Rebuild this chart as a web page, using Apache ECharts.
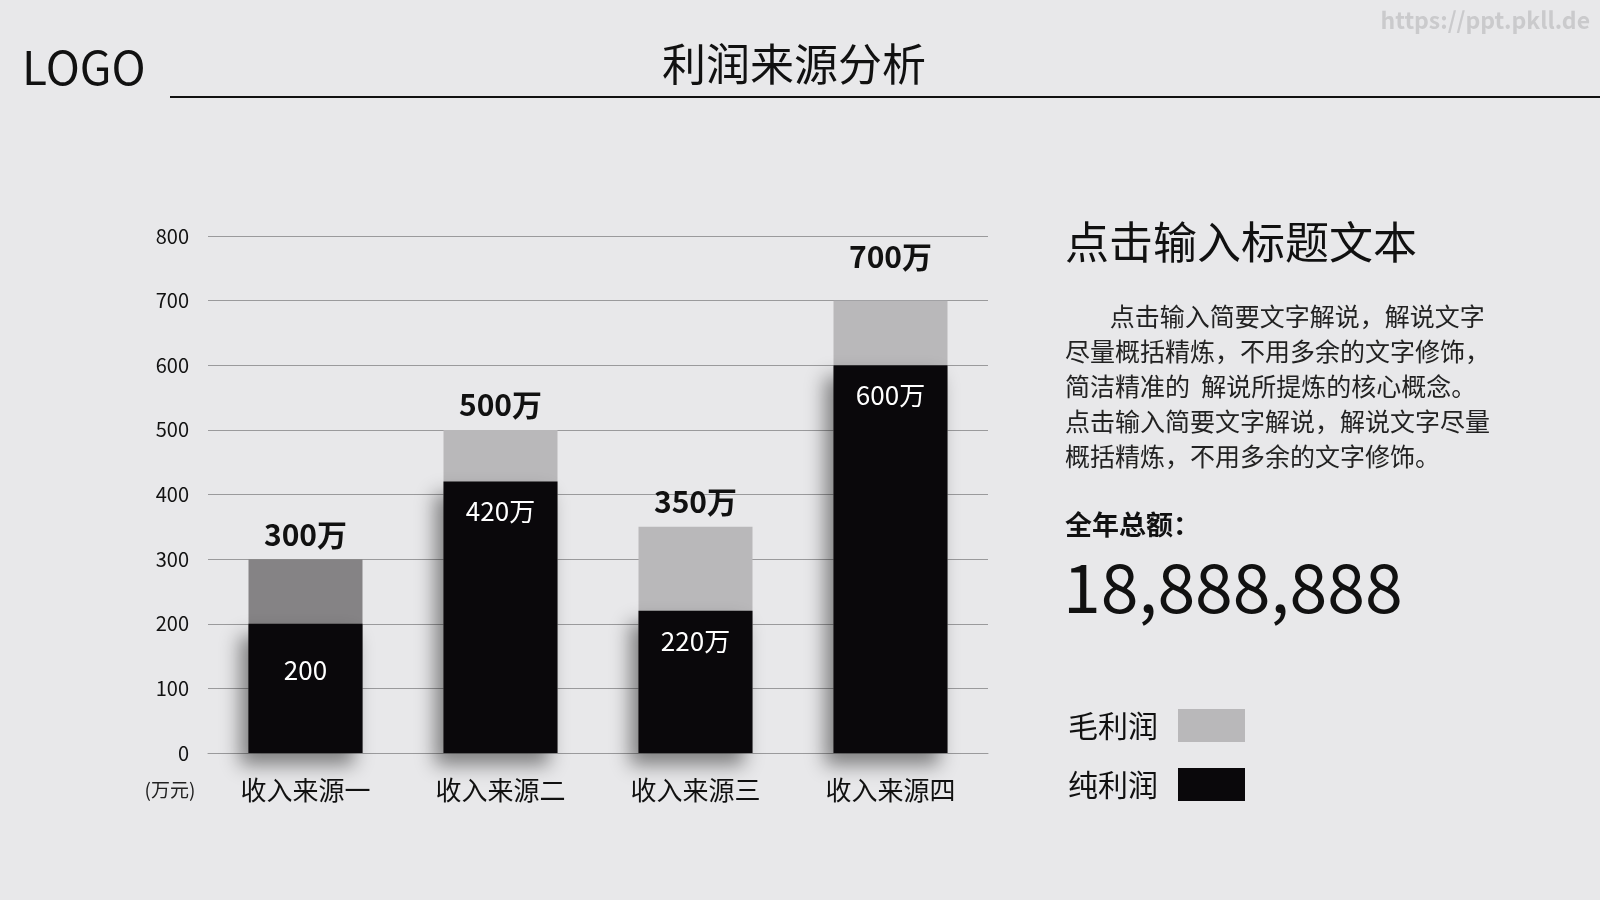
<!DOCTYPE html>
<html>
<head>
<meta charset="utf-8">
<script src="https://cdn.jsdelivr.net/npm/echarts@6/dist/echarts.min.js"></script>
<style>
html,body{margin:0;padding:0;background:#e8e8ea;}
#c{width:1600px;height:900px;}
</style>
</head>
<body>
<div id="c"></div>
<script>
const categories = ['收入来源一', '收入来源二', '收入来源三', '收入来源四'];
const grossProfit = [300, 500, 350, 700];
const netProfit = [200, 420, 220, 600];
const netLabels = ['200', '420万', '220万', '600万'];
const yTicks = { min: 0, max: 800, interval: 100 };
const FONT = '"Noto Sans CJK SC", "Noto Sans", sans-serif';

const chart = echarts.init(document.getElementById('c'), null, { renderer: 'canvas' });

const grossData = grossProfit.map((v, i) => {
  const d = { value: v };
  if (i === 0) d.itemStyle = { color: '#858385' };
  if (i === 3) d.label = { offset: [0, -19] };
  return d;
});
const netData = netProfit.map((v, i) => {
  const d = { value: v };
  if (i === 0) d.label = { offset: [0, 16] };
  return d;
});

const option = {
  backgroundColor: '#e8e8ea',
  animation: false,
  textStyle: { fontFamily: FONT },
  grid: { left: 208, right: 612, top: 236, bottom: 147 },
  legend: {
    data: ['毛利润', '纯利润'],
    orient: 'vertical',
    left: 1063,
    top: 704,
    align: 'right',
    itemWidth: 67,
    itemHeight: 33,
    itemGap: 26,
    icon: 'rect',
    textStyle: { fontSize: 30, color: '#111', fontFamily: FONT, padding: [0, 15, 0, 0] }
  },
  xAxis: {
    type: 'category',
    data: categories,
    axisTick: { show: false },
    axisLine: { lineStyle: { color: '#9a9a9c', width: 1 } },
    axisLabel: { fontSize: 26, color: '#111', margin: 24, fontFamily: FONT }
  },
  yAxis: {
    type: 'value',
    min: yTicks.min, max: yTicks.max, interval: yTicks.interval,
    axisLine: { show: false },
    axisTick: { show: false },
    splitLine: { lineStyle: { color: '#9a9a9c', width: 1 } },
    axisLabel: { fontSize: 20, color: '#111', margin: 19, fontFamily: FONT }
  },
  series: [
    {
      name: '毛利润',
      type: 'bar',
      barWidth: 114,
      barGap: '-100%',
      itemStyle: { color: '#b9b8ba' },
      label: {
        show: true, position: 'top', distance: 10,
        formatter: '{c}万', fontSize: 30, fontWeight: 'bold', color: '#111', fontFamily: FONT
      },
      data: grossData,
      z: 2
    },
    {
      name: '纯利润',
      type: 'bar',
      barWidth: 114,
      barGap: '-100%',
      itemStyle: {
        color: '#0a080b',
        shadowBlur: 18, shadowColor: 'rgba(0,0,0,0.45)', shadowOffsetX: -9, shadowOffsetY: 12
      },
      label: {
        show: true, position: 'insideTop', distance: 17,
        formatter: p => netLabels[p.dataIndex], fontSize: 26, color: '#fff', fontFamily: FONT
      },
      data: netData,
      z: 3
    }
  ],
  graphic: [
    { type: 'text', left: 22, top: 45, style: { text: 'LOGO', font: '46px ' + FONT, fill: '#111' } },
    { type: 'text', x: 794, y: 64, style: { text: '利润来源分析', font: '44px ' + FONT, fill: '#111', align: 'center', verticalAlign: 'middle' } },
    { type: 'rect', shape: { x: 170, y: 96, width: 1430, height: 2 }, style: { fill: '#111' } },
    { type: 'text', x: 1590, y: 20, style: { text: 'https://ppt.pkll.de', font: 'bold 23px ' + FONT, fill: '#cacacc', align: 'right', verticalAlign: 'middle' } },
    { type: 'text', x: 170, y: 790, style: { text: '(万元)', font: '19px ' + FONT, fill: '#222', align: 'center', verticalAlign: 'middle' } },
    { type: 'text', x: 1065, y: 242, style: { text: '点击输入标题文本', font: '44px ' + FONT, fill: '#111', verticalAlign: 'middle' } },
    { type: 'text', x: 1065, y: 299, style: {
        text: '        点击输入简要文字解说，解说文字\n尽量概括精炼，不用多余的文字修饰，\n简洁精准的  解说所提炼的核心概念。\n点击输入简要文字解说，解说文字尽量\n概括精炼，不用多余的文字修饰。',
        font: '25px ' + FONT, fill: '#222', lineHeight: 35 } },
    { type: 'text', x: 1065, y: 525, style: { text: '全年总额：', font: 'bold 27px ' + FONT, fill: '#111', verticalAlign: 'middle' } },
    { type: 'text', x: 1063, y: 587, style: { text: '18,888,888', font: '68px ' + FONT, fill: '#111', verticalAlign: 'middle' } }
  ]
};
chart.setOption(option);
</script>
</body>
</html>
